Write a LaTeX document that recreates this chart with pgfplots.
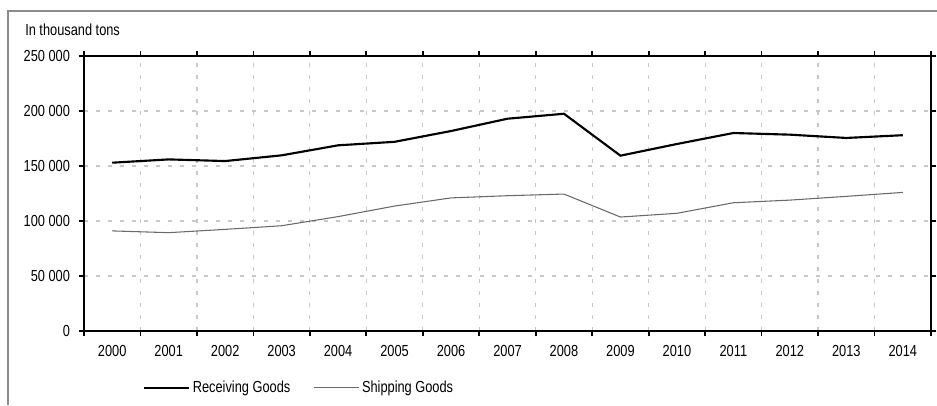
\documentclass[border=0pt]{standalone}
\usepackage{fontspec}
\setmainfont{Liberation Sans}[FakeStretch=0.8]
\usepackage{pgfplots}
\pgfplotsset{compat=1.18}
\definecolor{gridgray}{RGB}{200,200,200}
\definecolor{framegray}{RGB}{140,140,140}
\definecolor{shipgray}{RGB}{105,105,105}
\begin{document}
\begin{tikzpicture}
\path[use as bounding box] (0pt,0pt) rectangle (702.75pt,303.75pt);
\draw[framegray, line width=1.2pt] (6pt,0pt) -- (6pt,295.7pt) -- (702.75pt,295.7pt);
\node[anchor=west, inner sep=0pt, font=\fontsize{12}{14}\selectfont] at (18.75pt,281.25pt) {In thousand tons};
\begin{axis}[
  at={(63pt,55.5pt)}, anchor=south west,
  scale only axis,
  width=635.25pt, height=206.25pt,
  xmin=-0.5, xmax=14.5,
  ymin=0, ymax=250000,
  axis line style={black, line width=1.3pt},
  xtick={0,...,14},
  xticklabels={2000,2001,2002,2003,2004,2005,2006,2007,2008,2009,2010,2011,2012,2013,2014},
  major x tick style={draw=none},
  minor xtick={-0.5,0.5,...,14.5},
  minor x tick style={black, line width=1.3pt},
  minor tick length=4pt,
  major tick length=4pt,
  tick align=outside,
  xmajorgrids=false,
  xminorgrids=true,
  ymajorgrids=true,
  scaled y ticks=false,
  ytick={0,50000,100000,150000,200000,250000},
  yticklabels={0,50 000,100 000,150 000,200 000,250 000},
  y tick style={black, line width=1.3pt},
  minor grid style={gridgray, line width=0.9pt, dash pattern=on 3pt off 6pt},
  major grid style={gridgray, line width=0.9pt, dash pattern=on 3pt off 6pt},
  tick label style={font=\fontsize{12}{14}\selectfont},
  xticklabel style={yshift=-3.5pt},
  yticklabel style={xshift=-3pt},
  legend style={draw=none, fill=none, at={(0.069,-0.207)}, anchor=west, inner sep=0pt,
    font=\fontsize{12}{14}\selectfont, /tikz/every even column/.append style={column sep=15pt}},
  legend columns=2,
  legend image code/.code={\draw[#1] (0pt,0pt) -- (34pt,0pt);},
]
\addplot[black, line width=1.6pt] coordinates {
  (0,153000) (1,156000) (2,154500) (3,159700) (4,168800) (5,172000) (6,181800)
  (7,193000) (8,197500) (9,159400) (10,170000) (11,180000) (12,178500) (13,175500) (14,178000)
};
\addlegendentry{Receiving Goods}
\addplot[shipgray, line width=0.8pt] coordinates {
  (0,91000) (1,89400) (2,92400) (3,95700) (4,104000) (5,113600) (6,121000)
  (7,123000) (8,124500) (9,103600) (10,107000) (11,116600) (12,119000) (13,122400) (14,126000)
};
\addlegendentry{Shipping Goods}
\end{axis}
\end{tikzpicture}
\end{document}
